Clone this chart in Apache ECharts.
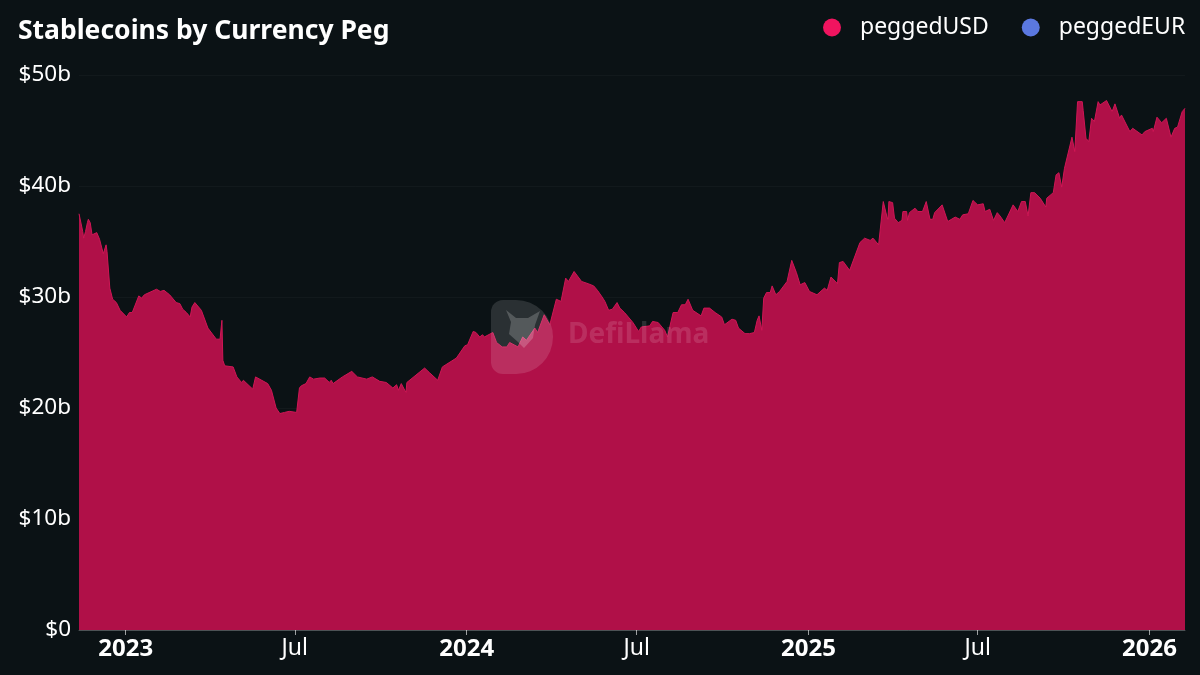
<!DOCTYPE html>
<html>
<head>
<meta charset="utf-8">
<title>Stablecoins by Currency Peg</title>
<script src="https://cdn.jsdelivr.net/npm/echarts@6/dist/echarts.min.js"></script>
<style>
  html, body { margin: 0; padding: 0; background: #0b1215; }
  #chart { width: 1200px; height: 675px; }
</style>
</head>
<body>
<div id="chart"></div>
<script>
// days counted from 2023-01-01, irregular because they follow the turning points of the curve
var dayOffsets = [
  -50,-46,-45,-43,-41,-40,-38,-36,-31,-28,-24,-22,-21,-20,-17,-14,-10,-6,1,4,7,14,17,20,33,37,41,47,54,58,
  61,65,69,71,74,81,88,97,101,103,104,106,115,119,124,126,136,139,152,156,161,165,170,175,183,186,188,193,197,201,
  208,213,218,220,222,232,242,248,258,264,272,279,286,290,292,295,300,301,320,325,334,339,354,363,366,372,375,379,382,384,
  393,397,403,408,411,420,425,429,438,441,448,454,461,466,471,474,480,488,495,501,505,510,513,517,521,526,529,534,543,549,
  552,561,564,570,577,580,586,591,595,599,602,607,616,619,625,631,638,641,649,653,656,663,668,673,676,678,681,683,686,690,
  692,694,696,700,708,713,718,722,727,732,740,748,751,755,762,764,768,775,786,791,797,800,806,808,811,815,816,817,821,823,
  827,831,832,836,837,839,845,848,853,857,861,864,866,874,880,888,893,896,902,907,912,918,920,925,929,933,936,941,950,955,
  959,963,966,969,973,979,985,986,993,996,999,1002,1005,1013,1016,1019,1024,1025,1028,1031,1034,1037,1041,1043,1050,1056,1059,1064,1066,1075,
  1078,1088,1091,1099,1100,1104,1109,1114,1119,1123,1126,1131,1134
];
var peggedUSD = [
  37.5,35.9,35.3,35.9,36.7,37.0,36.7,35.6,35.8,35.2,33.9,34.0,34.7,34.1,30.8,29.8,29.5,28.8,28.2,28.6,28.6,30.1,29.9,30.2,30.7,30.5,30.6,30.2,29.5,29.4,
  28.9,28.6,28.2,29.1,29.5,28.8,27.2,26.2,26.2,27.9,24.3,23.8,23.7,22.8,22.3,22.5,21.7,22.8,22.2,21.6,20.0,19.5,19.6,19.7,19.6,21.8,22.0,22.2,22.8,22.6,
  22.7,22.7,22.3,22.5,22.2,22.8,23.3,22.8,22.6,22.8,22.4,22.3,21.8,22.1,21.6,22.2,21.4,22.3,23.6,23.2,22.5,23.7,24.5,25.6,25.7,26.9,26.8,26.4,26.6,26.4,
  26.8,25.9,25.5,25.5,25.9,25.5,26.4,26.1,27.2,26.8,28.4,27.5,29.8,29.6,31.7,31.4,32.3,31.4,31.2,31.0,30.6,30.0,29.6,28.8,28.9,29.5,29.0,28.6,27.7,26.9,
  27.3,27.4,27.8,27.7,27.0,26.4,28.6,28.6,29.3,29.3,29.8,28.8,28.3,29.0,29.0,28.6,28.2,27.5,28.0,27.9,27.2,26.7,26.7,26.8,27.9,28.3,27.0,29.9,30.4,30.4,
  31.0,31.1,30.2,30.5,31.4,33.3,32.2,31.1,31.3,30.5,30.2,30.8,30.6,31.8,31.2,33.1,33.2,32.4,34.9,35.3,35.1,35.3,34.7,34.7,38.6,37.2,37.0,38.6,38.5,37.1,
  36.7,36.9,37.7,37.7,36.9,37.6,38.0,37.7,37.7,38.6,37.0,37.0,37.6,38.3,36.8,37.2,37.0,37.4,37.5,38.7,38.3,38.4,37.7,37.9,36.9,37.6,37.3,36.7,38.3,37.7,
  38.6,38.6,37.3,39.4,39.4,38.9,38.1,38.9,39.4,41.0,41.2,39.9,41.6,44.4,43.1,47.6,47.6,46.8,44.3,44.0,46.1,45.8,47.6,47.3,47.7,46.7,47.4,46.1,46.4,44.9,
  45.2,44.6,44.9,45.2,44.9,46.2,45.7,46.1,44.4,45.2,45.3,46.7,47.0
];
var peggedEUR = [];
var tickDays = [0, 181, 365, 547, 731, 912, 1096];
var tickLabels = ['2023','Jul','2024','Jul','2025','Jul','2026'];

var font = '"Noto Sans", sans-serif';

var usdData = dayOffsets.map(function (d, i) {
  return [d, peggedUSD[i]];
});

var chart = echarts.init(document.getElementById('chart'), null, { renderer: 'canvas' });

var option = {
  animation: false,
  backgroundColor: '#0b1215',
  textStyle: { fontFamily: font },
  title: {
    text: 'Stablecoins by Currency Peg',
    left: 13,
    top: 13,
    textStyle: { color: '#ffffff', fontSize: 26.5, fontWeight: 'bold', fontFamily: font }
  },
  legend: {
    top: 11,
    left: 818,
    icon: 'circle',
    itemWidth: 18,
    itemHeight: 18,
    itemGap: 33,
    textStyle: { color: '#ffffff', fontSize: 23, fontFamily: font, padding: [0, 0, 0, 14] },
    data: ['peggedUSD', 'peggedEUR']
  },
  grid: { left: 79, right: 15, top: 75, bottom: 45 },
  xAxis: {
    type: 'value',
    min: dayOffsets[0],
    max: dayOffsets[dayOffsets.length - 1],
    splitLine: { show: false },
    axisLine: { onZero: false, lineStyle: { color: 'rgba(255,255,255,0.25)' } },
    axisTick: { customValues: tickDays, length: 5, lineStyle: { color: 'rgba(255,255,255,0.6)' } },
    axisLabel: {
      customValues: tickDays,
      margin: 7,
      color: '#ffffff',
      fontSize: 23,
      fontFamily: font,
      formatter: function (value) {
        var label = tickLabels[tickDays.indexOf(value)];
        return label === 'Jul' ? label : '{year|' + label + '}';
      },
      rich: {
        year: { color: '#ffffff', fontSize: 24, fontWeight: 'bold', fontFamily: font }
      }
    }
  },
  yAxis: {
    type: 'value',
    min: 0,
    max: 50,
    interval: 10,
    axisLine: { show: false },
    axisTick: { show: false },
    splitLine: { lineStyle: { color: 'rgba(255,255,255,0.03)', width: 1 } },
    axisLabel: {
      margin: 8,
      color: '#ffffff',
      fontSize: 22.5,
      fontFamily: font,
      formatter: function (value) {
        return value === 0 ? '$0' : '$' + value + 'b';
      }
    }
  },
  graphic: [
    {
      // watermark: D shaped badge with a llama head
      type: 'rect',
      z: 50,
      silent: true,
      shape: { x: 491, y: 300, width: 62, height: 74, r: [12, 37, 37, 12] },
      style: { fill: 'rgba(255,255,255,0.13)' }
    },
    {
      type: 'polygon',
      z: 51,
      silent: true,
      shape: {
        points: [[506, 310], [516, 318], [528, 318], [540, 311], [535, 325], [533, 338], [524, 348], [518, 342], [509, 334], [511, 322]]
      },
      style: { fill: 'rgba(255,255,255,0.2)' }
    },
    {
      type: 'text',
      z: 50,
      silent: true,
      left: 568,
      top: 321,
      style: {
        text: 'DefiLlama',
        fill: 'rgba(255,255,255,0.13)',
        fontSize: 28,
        fontWeight: 'bold',
        fontFamily: font
      }
    }
  ],
  series: [
    {
      name: 'peggedUSD',
      type: 'line',
      stack: 'peg',
      showSymbol: false,
      symbol: 'none',
      sampling: 'none',
      color: '#f0145f',
      lineStyle: { width: 1, color: '#cf1655' },
      areaStyle: { color: '#b01048', opacity: 1 },
      data: usdData
    },
    {
      name: 'peggedEUR',
      type: 'line',
      stack: 'peg',
      showSymbol: false,
      symbol: 'none',
      color: '#5b78e0',
      areaStyle: { color: '#5b78e0', opacity: 1 },
      data: peggedEUR
    }
  ]
};

chart.setOption(option);
</script>
</body>
</html>
